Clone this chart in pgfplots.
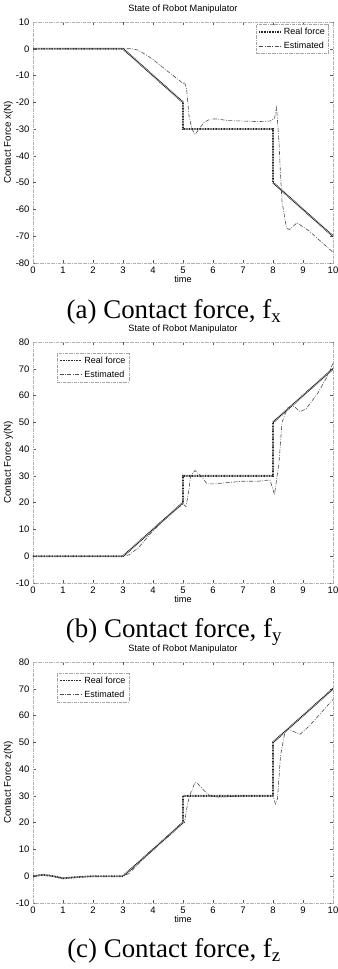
\documentclass[border=0pt]{standalone}
\usepackage{fontspec}
\setmainfont{Liberation Sans}
\newfontfamily\capfont{Liberation Serif}
\usepackage{pgfplots}
\pgfplotsset{compat=1.18}
\pgfplotsset{
  myax/.style={
    scale only axis, width=300bp, height=241bp,
    anchor=south west,
    xmin=0, xmax=10, xtick={0,1,...,10},
    font=\fontsize{9.5}{11}\selectfont,
    /pgf/number format/assume math mode=true,
    tick align=inside, major tick length=3bp,
    tick style={gray!70!black, thin},
    axis line style={gray!60, densely dashdotted},
    title={State of Robot Manipulator},
    title style={font=\fontsize{9.2}{10}\selectfont, anchor=south, yshift=-1bp},
    xlabel={time},
    xlabel style={font=\fontsize{9.2}{10}\selectfont, yshift=4bp},
    ylabel style={font=\fontsize{9.8}{11}\selectfont, yshift=-4bp},
    legend cell align=left,
    legend image code/.code={\draw[##1] (0bp,0bp) -- (22bp,0bp);},
    legend style={draw=gray!70, dash pattern=on 3pt off 1pt on 0.6pt off 1pt, fill=white,
      font=\fontsize{9}{10}\selectfont, inner sep=1.5bp, row sep=2bp},
  },
  real/.style={black!85, line width=1.8bp, dash pattern=on 0.9bp off 0.7bp},
  est/.style={gray!60!black, line width=0.6bp, dash pattern=on 4bp off 1.5bp on 0.8bp off 1.5bp},
}
\begin{document}
\begin{tikzpicture}[x=1bp,y=1bp]
\useasboundingbox (0,0) rectangle (337,969);
% (a)
\begin{axis}[myax, at={(33bp,706bp)}, ymin=-80, ymax=10, ytick={-80,-70,...,10},
  ylabel={Contact Force x(N)},
  legend style={at={(0.985,0.99)}, anchor=north east}]
\addplot[real] coordinates {(0,0) (3,0) (5,-20) (5,-30) (8,-30) (8,-50) (10,-70)};
\addplot[est] coordinates {(0,0) (3.3,0) (3.5,-0.5) (3.8,-2.5) (4,-4) (4.5,-8.5) (4.9,-12) (5.0,-13) (5.05,-12.5) (5.12,-15) (5.2,-25) (5.3,-30) (5.4,-32) (5.5,-30.5) (5.7,-27.5) (5.9,-26.3) (6.1,-26.2) (6.5,-26.8) (7,-27) (7.5,-27.2) (7.9,-27) (8.05,-26) (8.12,-22) (8.2,-35) (8.25,-47) (8.3,-57) (8.45,-67) (8.55,-67.5) (8.8,-65) (9.2,-68) (9.6,-72) (10,-76)};
\legend{Real force, Estimated}
\end{axis}
\node[font=\capfont\fontsize{27}{29}\selectfont] at (174,657) {(a) Contact force, f\textsubscript{x}};
% (b)
\begin{axis}[myax, at={(33bp,386bp)}, ymin=-10, ymax=80, ytick={-10,0,...,80},
  ylabel={Contact Force y(N)},
  legend style={at={(0.08,0.955)}, anchor=north west}]
\addplot[real] coordinates {(0,0) (3,0) (5,20) (5,30) (8,30) (8,50) (10,70)};
\addplot[est] coordinates {(0,0) (3,0) (3.2,0.5) (3.5,3) (4,9.5) (4.5,15) (5,19.5) (5.1,18.5) (5.2,25) (5.25,30) (5.4,32) (5.6,30) (5.8,27) (6,27) (6.5,27.5) (7,28) (7.5,28) (7.9,28.5) (8.05,23) (8.2,35) (8.3,50) (8.4,53) (8.5,55.5) (8.7,56) (8.9,54) (9.1,55) (9.5,61) (9.8,67) (10,72)};
\legend{Real force, Estimated}
\end{axis}
\node[font=\capfont\fontsize{27}{29}\selectfont] at (174,337) {(b) Contact force, f\textsubscript{y}};
% (c)
\begin{axis}[myax, at={(33bp,66bp)}, ymin=-10, ymax=80, ytick={-10,0,...,80},
  ylabel={Contact Force z(N)},
  legend style={at={(0.08,0.955)}, anchor=north west}]
\addplot[real] coordinates {(0,0) (0.3,0.5) (0.6,0.2) (1,-0.8) (1.5,-0.3) (2,0) (3,0) (5,20) (5,30) (8,30) (8,50) (10,70)};
\addplot[est] coordinates {(0,0) (0.3,0.6) (1,-0.7) (1.5,-0.2) (3,0) (3.2,1) (3.5,4.5) (4,10) (4.5,15) (5,20.5) (5.05,20) (5.15,27) (5.25,31) (5.4,35) (5.5,34.5) (5.7,32) (5.9,30) (6.2,29.5) (7,30) (8,30) (8.08,27) (8.15,29) (8.25,45) (8.4,54) (8.5,55) (8.6,54.5) (8.9,53) (9.2,56) (9.6,61) (10,66)};
\legend{Real force, Estimated}
\end{axis}
\node[font=\capfont\fontsize{27}{29}\selectfont] at (174,18) {(c) Contact force, f\textsubscript{z}};
\end{tikzpicture}
\end{document}
